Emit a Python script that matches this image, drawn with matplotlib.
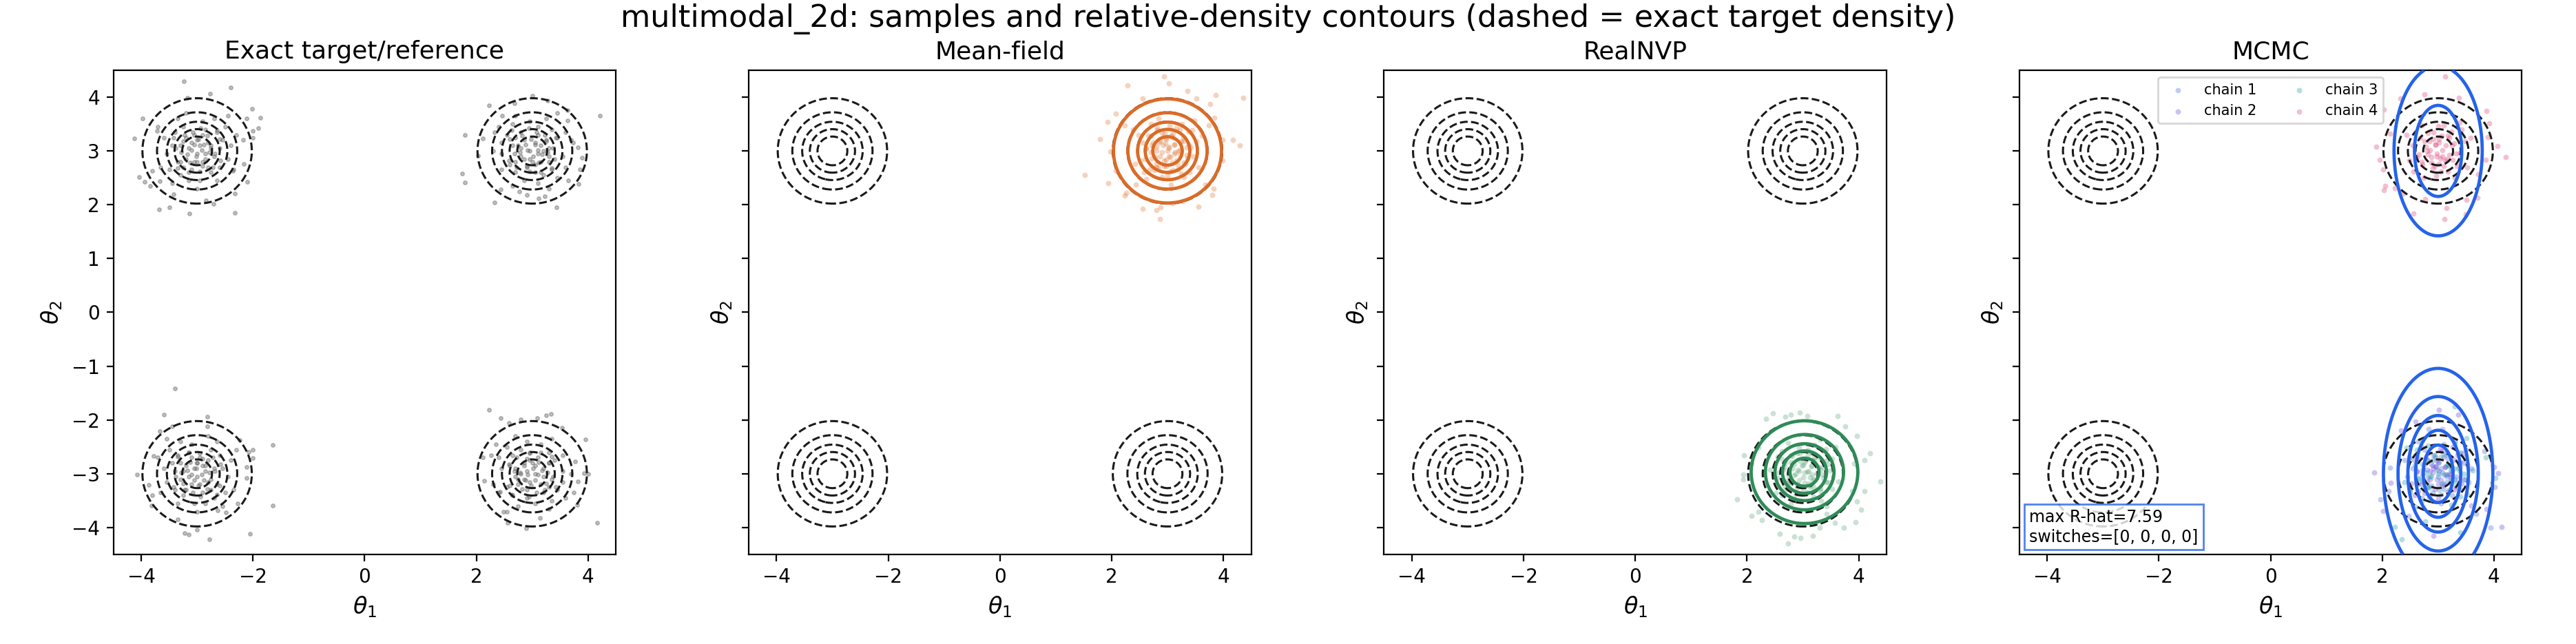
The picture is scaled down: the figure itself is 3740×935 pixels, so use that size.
import numpy as np
import matplotlib
matplotlib.use("Agg")
from matplotlib import pyplot as plt

# exact target samples, one list per mode
ref_tl = [(-3.24, 4.29), (-2.40, 4.18), (-2.77, 4.07), (-3.18, 3.99), (-2.02, 3.78), (-1.87, 3.62), (-3.98, 3.60),
          (-2.12, 3.60), (-4.13, 3.23), (-1.91, 3.42), (-2.00, 3.37), (-2.00, 3.25), (-4.04, 2.52), (-3.94, 2.43),
          (-3.84, 2.35), (-2.10, 2.43), (-3.68, 1.91), (-3.50, 1.95), (-3.14, 1.84), (-2.33, 1.85), (-2.84, 2.08),
          (-2.71, 2.02), (-3.42, 2.20), (-2.32, 2.21), (-3.72, 3.37), (-3.80, 2.63), (-3.67, 2.44), (-2.16, 2.76),
          (-2.18, 3.20), (-2.36, 2.63),
          (-2.95, 3.10), (-3.20, 3.25), (-2.70, 2.90), (-3.35, 2.80), (-2.85, 3.40), (-3.10, 2.65), (-2.55, 3.20),
          (-3.45, 3.10), (-2.75, 2.60), (-3.25, 3.45), (-3.00, 2.95), (-2.90, 2.80), (-3.15, 3.05), (-2.65, 3.35),
          (-3.30, 2.55), (-2.45, 2.85), (-3.55, 2.95), (-2.80, 3.15), (-3.05, 3.30), (-2.60, 2.70), (-3.40, 3.35),
          (-2.90, 3.55), (-3.20, 2.85), (-2.75, 3.05), (-3.10, 3.15), (-2.40, 3.10), (-3.60, 3.25), (-2.95, 2.45),
          (-3.35, 3.60), (-2.70, 3.60), (-2.85, 2.95), (-3.25, 2.70), (-2.50, 3.45), (-3.50, 2.65), (-3.00, 3.20),
          (-2.80, 2.70), (-3.15, 2.45), (-2.60, 3.05), (-3.05, 2.80), (-2.90, 3.30), (-3.30, 3.10), (-2.35, 2.65),
          (-3.65, 2.70), (-2.65, 2.45), (-3.45, 2.40), (-2.45, 3.65), (-3.20, 3.70), (-3.00, 2.30), (-2.30, 3.30),
          (-3.70, 3.45),
          (-2.92, 3.02), (-3.05, 3.12), (-2.85, 2.85), (-3.18, 2.94), (-2.98, 3.22), (-3.12, 2.78), (-2.75, 3.10),
          (-3.25, 3.18), (-2.90, 2.72), (-3.02, 2.90), (-2.82, 3.28), (-3.30, 2.80), (-2.68, 2.95), (-3.08, 3.35),
          (-2.95, 2.62), (-3.38, 3.05), (-2.72, 2.70), (-3.22, 3.30), (-2.60, 3.22), (-3.15, 2.60), (-2.88, 3.12),
          (-3.10, 3.02), (-3.00, 2.80), (-2.78, 2.98), (-3.28, 2.98), (-2.94, 3.42), (-3.35, 2.68), (-2.64, 3.38),
          (-3.42, 3.25), (-2.58, 2.82)]
ref_tr = [(3.01, 4.03), (2.23, 3.84), (4.21, 3.66), (1.79, 3.30), (2.11, 3.23), (3.63, 3.76), (1.74, 2.58),
          (1.79, 2.41), (2.32, 2.04), (3.44, 1.95), (3.83, 2.39), (3.89, 2.87), (3.82, 3.07), (3.85, 2.65),
          (3.28, 3.93), (2.68, 3.88), (2.44, 2.28), (3.11, 2.12), (2.03, 2.91), (3.63, 3.56), (3.73, 3.16),
          (2.46, 3.65), (2.32, 3.35), (3.22, 2.16), (2.91, 2.18), (2.77, 2.25),
          (3.10, 2.95), (3.25, 3.20), (2.90, 2.70), (2.80, 3.35), (3.40, 2.85), (2.65, 3.10), (3.20, 2.55),
          (3.10, 3.45), (2.60, 2.75), (3.45, 3.25), (2.95, 3.00), (2.80, 2.90), (3.05, 3.15), (3.35, 2.65),
          (2.55, 3.30), (2.85, 2.45), (2.95, 3.55), (3.15, 2.80), (3.30, 3.05), (2.70, 2.60), (3.35, 3.40),
          (3.55, 2.90), (2.85, 3.20), (3.05, 2.75), (3.15, 3.10), (3.10, 2.40), (3.25, 3.60), (2.45, 2.95),
          (3.60, 3.35), (3.60, 2.70), (2.95, 2.85), (2.70, 3.25), (3.45, 2.50), (2.65, 3.50), (3.20, 3.00),
          (2.70, 2.80), (2.45, 3.15), (3.05, 2.60), (2.80, 3.05), (3.30, 2.90), (3.10, 3.30), (2.65, 2.35),
          (2.70, 3.65), (2.45, 2.65), (2.40, 3.45), (3.65, 2.45), (3.70, 3.20), (2.30, 3.00), (3.30, 2.30),
          (3.45, 3.70),
          (2.92, 3.02), (3.05, 3.12), (2.85, 2.85), (3.18, 2.94), (2.98, 3.22), (3.12, 2.78), (2.75, 3.10),
          (3.25, 3.18), (2.90, 2.72), (3.02, 2.90), (2.82, 3.28), (3.30, 2.80), (2.68, 2.95), (3.08, 3.35),
          (2.95, 2.62), (3.38, 3.05), (2.72, 2.70), (3.22, 3.30), (2.60, 3.22), (3.15, 2.60), (2.88, 3.12),
          (3.10, 3.02), (3.00, 2.80), (2.78, 2.98), (3.28, 2.98), (2.94, 3.42), (3.35, 2.68), (2.64, 3.38),
          (3.42, 3.25), (2.58, 2.82)]
ref_bl = [(-3.40, -1.41), (-3.60, -1.90), (-2.82, -1.94), (-1.64, -2.47), (-4.07, -3.02), (-1.65, -3.59),
          (-2.00, -2.55), (-2.08, -2.59), (-2.00, -2.71), (-2.12, -2.87), (-2.12, -3.08), (-3.67, -2.21),
          (-3.45, -2.12), (-3.80, -3.40), (-3.82, -3.59), (-3.35, -3.85), (-3.00, -4.04), (-3.23, -4.10),
          (-2.28, -3.55), (-2.24, -2.38), (-3.78, -2.67), (-3.87, -3.21), (-2.82, -2.12), (-2.49, -3.72),
          (-2.63, -3.68), (-3.15, -4.13), (-2.78, -4.22), (-2.05, -4.12),
          (-3.05, -2.90), (-2.80, -2.75), (-3.30, -3.10), (-2.65, -3.20), (-3.15, -2.60), (-2.90, -3.35),
          (-3.45, -2.80), (-2.55, -2.90), (-3.25, -3.40), (-2.75, -2.55), (-3.00, -3.05), (-3.10, -3.20),
          (-2.85, -2.95), (-3.35, -2.65), (-2.70, -3.45), (-3.55, -3.15), (-2.45, -3.05), (-3.20, -2.85),
          (-2.95, -2.70), (-3.40, -3.30), (-2.60, -2.65), (-3.10, -2.45), (-2.80, -3.15), (-3.25, -2.95),
          (-2.90, -2.85), (-3.60, -2.90), (-2.40, -2.75), (-3.05, -3.55), (-2.65, -2.40), (-3.30, -2.40),
          (-3.15, -3.05), (-2.75, -3.30), (-3.50, -2.55), (-2.50, -3.35), (-3.00, -2.80), (-3.20, -3.30),
          (-2.85, -3.55), (-3.40, -2.95), (-2.95, -3.20), (-3.10, -2.70), (-2.70, -2.90), (-3.65, -3.35),
          (-2.35, -3.30), (-3.35, -3.55), (-2.55, -3.60), (-3.55, -2.35), (-2.80, -2.30), (-3.00, -3.70),
          (-3.70, -2.70), (-2.30, -2.55),
          (-2.92, -3.02), (-3.05, -3.12), (-2.85, -2.85), (-3.18, -2.94), (-2.98, -3.22), (-3.12, -2.78),
          (-2.75, -3.10), (-3.25, -3.18), (-2.90, -2.72), (-3.02, -2.90), (-2.82, -3.28), (-3.30, -2.80),
          (-2.68, -2.95), (-3.08, -3.35), (-2.95, -2.62), (-3.38, -3.05), (-2.72, -2.70), (-3.22, -3.30),
          (-2.60, -3.22), (-3.15, -2.60), (-2.88, -3.12), (-3.10, -3.02), (-3.00, -2.80), (-2.78, -2.98),
          (-3.28, -2.98), (-2.94, -3.42), (-3.35, -2.68), (-2.64, -3.38), (-3.42, -3.25), (-2.58, -2.82)]
ref_br = [(2.23, -1.81), (2.44, -1.97), (2.58, -2.05), (2.79, -1.99), (3.09, -1.97), (3.25, -1.92),
          (3.34, -1.89), (3.54, -2.15), (3.95, -2.36), (4.00, -3.00), (3.93, -2.99), (2.14, -3.13),
          (2.11, -2.69), (4.16, -3.91), (2.89, -4.01), (2.56, -3.91), (2.48, -3.70), (3.81, -3.58),
          (3.74, -3.35), (3.82, -3.14), (3.77, -2.77), (3.14, -3.82), (2.27, -2.65), (2.42, -3.33),
          (2.90, -2.95), (2.75, -3.20), (3.10, -2.70), (3.20, -3.35), (2.60, -2.85), (3.35, -3.10),
          (2.80, -2.55), (2.90, -3.45), (3.40, -2.75), (2.55, -3.25), (3.05, -3.00), (3.20, -2.90),
          (2.95, -3.15), (2.65, -2.65), (3.45, -3.30), (3.15, -2.45), (3.05, -3.55), (2.85, -2.80),
          (2.70, -3.05), (3.30, -2.60), (2.65, -3.40), (2.45, -2.90), (3.15, -3.20), (2.95, -2.75),
          (2.85, -3.10), (2.90, -2.40), (2.75, -3.60), (3.55, -2.95), (2.40, -3.35), (2.40, -2.70),
          (3.05, -2.85), (3.30, -3.25), (2.55, -2.50), (3.35, -3.50), (2.80, -3.00), (3.30, -2.80),
          (3.55, -3.15), (2.95, -2.60), (3.20, -3.05), (2.70, -2.90), (2.90, -3.30), (3.35, -2.35),
          (3.30, -3.65), (3.55, -2.65), (3.60, -3.45), (2.35, -2.45), (2.30, -3.20), (3.70, -3.00),
          (2.70, -2.30), (2.55, -3.70),
          (2.92, -3.02), (3.05, -3.12), (2.85, -2.85), (3.18, -2.94), (2.98, -3.22), (3.12, -2.78),
          (2.75, -3.10), (3.25, -3.18), (2.90, -2.72), (3.02, -2.90), (2.82, -3.28), (3.30, -2.80),
          (2.68, -2.95), (3.08, -3.35), (2.95, -2.62), (3.38, -3.05), (2.72, -2.70), (3.22, -3.30),
          (2.60, -3.22), (3.15, -2.60), (2.88, -3.12), (3.10, -3.02), (3.00, -2.80), (2.78, -2.98),
          (3.28, -2.98), (2.94, -3.42), (3.35, -2.68), (2.64, -3.38), (3.42, -3.25), (2.58, -2.82)]

# mean-field samples
mf_pts = [(2.94, 4.39), (3.03, 4.25), (2.28, 4.22), (3.36, 4.11), (3.86, 4.04), (4.35, 3.99), (2.56, 3.98),
          (3.52, 3.98), (3.76, 3.87), (2.07, 3.69), (3.84, 3.61), (1.93, 3.54), (1.79, 3.22), (4.17, 3.20),
          (4.29, 3.11), (1.98, 2.99), (1.52, 2.55), (1.94, 2.40), (2.24, 2.17), (2.55, 1.93), (2.86, 1.74),
          (2.80, 1.90), (3.56, 1.96), (3.80, 2.18), (3.82, 2.30), (3.98, 2.82), (3.98, 3.20), (2.08, 2.63),
          (2.26, 2.22), (3.27, 2.07), (2.88, 1.95), (3.08, 2.03), (3.68, 2.37), (2.24, 3.48), (3.74, 3.48),
          (2.43, 2.37),
          (3.02, 3.05), (2.88, 3.18), (3.22, 2.92), (2.72, 2.86), (3.10, 3.32), (2.94, 2.72), (3.38, 3.12),
          (2.62, 3.04), (3.18, 2.66), (2.82, 3.38), (3.05, 2.88), (3.14, 2.98), (2.80, 3.08), (3.28, 3.26),
          (2.76, 2.64), (3.46, 2.90), (2.52, 2.82), (3.12, 3.12), (2.98, 3.24), (3.32, 2.76), (2.66, 3.28),
          (3.04, 3.46), (2.86, 2.90), (3.20, 3.00), (2.92, 3.10), (3.52, 3.18), (2.48, 3.30), (3.00, 2.54),
          (2.70, 3.50), (3.26, 3.50), (3.08, 2.78), (2.80, 2.76), (3.44, 3.38), (2.58, 2.60), (2.96, 3.14),
          (3.16, 2.82), (2.90, 2.52), (3.34, 3.06), (2.98, 2.84), (3.06, 3.28), (2.74, 3.16), (3.56, 2.70),
          (2.42, 2.76), (3.30, 2.52), (2.62, 2.48), (3.48, 3.56), (2.84, 3.60), (3.06, 2.38), (3.62, 3.28),
          (2.38, 3.40), (3.24, 3.18), (2.70, 2.98), (3.10, 2.64), (2.90, 3.34), (3.40, 2.60), (2.56, 3.16),
          (3.16, 3.42), (3.36, 2.86), (2.84, 2.68), (3.00, 3.00),
          (3.02, 3.08), (3.12, 2.95), (2.85, 3.15), (2.94, 2.82), (3.22, 3.02), (2.78, 2.88), (3.10, 3.25),
          (3.18, 2.75), (2.72, 3.10), (2.90, 2.98), (3.28, 3.18), (2.80, 2.70), (2.95, 3.32), (3.35, 2.92),
          (2.62, 3.05), (3.05, 2.62), (2.70, 3.28), (3.30, 2.78), (3.22, 3.40), (2.60, 2.85), (3.12, 3.12),
          (3.02, 2.90), (2.80, 3.00), (2.98, 3.22), (2.98, 2.72), (3.42, 3.06), (2.68, 2.65), (3.38, 3.36),
          (3.25, 2.58), (2.82, 3.42)]

# RealNVP samples
nvp_pts = [(2.46, -1.87), (2.34, -1.98), (2.94, -1.86), (3.08, -1.93), (2.79, -1.90), (2.69, -1.94),
           (3.62, -1.93), (3.76, -2.12), (3.97, -2.30), (4.20, -2.62), (4.10, -2.75), (4.39, -3.14),
           (1.95, -2.65), (1.93, -3.01), (1.93, -3.11), (1.82, -3.48), (2.08, -3.78), (2.27, -3.86),
           (2.59, -4.12), (2.85, -4.17), (2.96, -4.19), (3.18, -4.16), (2.73, -4.30), (3.74, -4.00),
           (3.95, -3.90), (4.04, -3.67), (4.11, -3.32), (3.97, -3.51), (2.21, -3.70), (3.43, -3.74),
           (3.57, -3.91), (3.30, -4.00), (2.08, -2.81), (2.20, -2.51), (3.92, -2.81), (3.88, -3.32),
           (3.08, -2.96), (3.21, -3.10), (2.95, -2.76), (2.89, -3.26), (3.35, -2.88), (2.75, -3.04),
           (3.15, -2.60), (3.07, -3.36), (2.69, -2.80), (3.41, -3.16), (2.91, -2.93), (3.01, -2.84),
           (3.11, -3.18), (3.29, -2.70), (2.67, -3.22), (2.93, -2.52), (2.85, -3.46), (3.15, -2.86),
           (3.27, -3.00), (2.79, -2.66), (3.31, -3.32), (3.49, -2.94), (2.93, -3.12), (3.03, -2.78),
           (3.13, -3.06), (3.21, -2.46), (3.33, -3.50), (2.57, -2.98), (3.53, -3.28), (3.53, -2.72),
           (2.81, -2.90), (2.79, -3.18), (3.41, -2.54), (2.63, -3.40), (3.17, -3.02), (2.85, -2.82),
           (2.55, -3.08), (3.09, -2.64), (2.87, -3.00), (3.31, -2.92), (3.19, -3.24), (2.73, -2.42),
           (2.79, -3.56), (2.55, -2.68), (2.51, -3.36), (3.59, -2.50), (3.63, -3.14), (2.41, -2.92),
           (3.31, -2.36), (3.43, -3.60), (3.21, -2.74), (3.01, -3.28), (2.67, -2.88), (3.37, -3.08),
           (2.63, -2.58), (3.19, -3.42), (3.45, -2.82), (2.89, -2.62), (2.71, -3.14), (3.03, -2.98),
           (3.11, -2.95), (2.98, -2.85), (3.18, -3.12), (2.85, -3.03), (3.05, -2.75), (2.91, -3.19),
           (3.28, -2.87), (2.78, -2.79), (3.13, -3.25), (3.01, -3.07), (3.21, -2.69), (2.73, -3.17),
           (3.35, -3.02), (2.95, -2.62), (3.08, -3.35), (2.65, -2.92), (3.31, -3.27), (2.81, -2.67),
           (3.43, -2.75), (2.88, -3.37), (3.15, -2.85), (2.93, -2.95), (3.03, -3.17), (3.25, -2.99),
           (2.75, -2.99), (3.09, -2.55), (2.68, -3.29), (3.39, -2.59), (2.61, -2.72), (3.45, -3.15)]

# MCMC chains
chain1 = [(4.01, -3.25), (3.94, -4.00), (1.97, -3.47), (2.11, -3.32), (2.14, -2.89), (3.83, -2.58),
          (3.68, -3.74), (2.47, -3.78), (3.08, -2.17), (2.83, -2.17),
          (3.05, -2.90), (2.80, -2.75), (3.30, -3.10), (2.65, -3.20), (3.15, -2.60), (2.90, -3.35),
          (3.45, -2.80), (2.55, -2.90), (3.25, -3.40), (2.75, -2.55), (3.00, -3.05), (3.10, -3.20),
          (2.85, -2.95), (3.35, -2.65), (2.70, -3.45), (3.55, -3.15), (2.45, -3.05), (3.20, -2.85),
          (2.95, -2.70), (3.40, -3.30), (2.60, -2.65), (3.10, -2.45), (2.80, -3.15), (3.25, -2.95),
          (2.90, -2.85), (3.60, -2.90), (2.40, -2.75), (3.05, -3.55), (2.65, -2.40), (3.30, -2.40),
          (3.15, -3.05), (2.75, -3.30), (3.50, -2.55), (2.50, -3.35), (3.00, -2.80),
          (3.08, -2.98), (2.95, -2.88), (3.15, -3.15), (2.82, -3.06), (3.02, -2.78), (2.88, -3.22),
          (3.25, -2.90), (2.75, -2.82), (3.10, -3.28), (2.98, -3.10), (3.18, -2.72), (2.70, -3.20),
          (3.32, -3.05), (2.92, -2.65), (3.05, -3.38)]
chain2 = [(1.86, -2.98), (4.08, -2.99), (4.00, -2.88), (4.14, -3.99), (2.91, -4.15), (2.01, -3.69),
          (2.15, -3.17), (3.02, -1.81), (3.36, -1.90), (2.60, -2.03), (2.34, -2.19), (3.59, -3.59),
          (3.87, -3.66),
          (3.02, -2.95), (2.88, -2.82), (3.22, -3.08), (2.72, -3.14), (3.10, -2.68), (2.94, -3.28),
          (3.38, -2.88), (2.62, -2.96), (3.18, -3.34), (2.82, -2.62), (3.05, -3.12), (3.14, -3.02),
          (2.80, -2.92), (3.28, -2.74), (2.76, -3.36), (3.46, -3.10), (2.52, -3.18), (3.12, -2.88),
          (2.98, -2.76), (3.32, -3.24), (2.66, -2.72), (3.04, -2.54), (2.86, -3.10), (3.20, -3.00),
          (2.92, -2.90), (3.52, -2.82), (2.48, -2.70), (3.00, -3.46), (2.70, -2.50), (3.26, -2.50),
          (3.08, -3.22), (2.80, -3.24), (3.44, -2.62), (2.58, -3.40), (2.96, -2.86),
          (2.62, -2.95), (3.28, -3.30), (2.78, -2.70), (3.40, -2.78), (2.85, -3.40), (3.12, -2.88),
          (2.90, -2.98), (3.00, -3.20), (3.22, -3.02), (2.72, -3.02), (3.06, -2.58), (2.65, -3.32),
          (3.36, -2.62), (2.58, -2.75), (3.42, -3.18)]
chain3 = [(4.02, -3.08), (3.40, -4.09), (2.35, -4.22), (2.22, -3.99), (3.30, -1.75), (3.51, -2.33),
          (3.85, -2.69), (2.77, -3.89),
          (2.82, -2.48), (2.70, -3.52), (3.46, -3.00), (2.50, -3.30), (2.50, -2.74), (3.22, -2.92),
          (3.24, -3.20), (2.62, -2.56), (3.40, -3.42), (2.86, -3.04), (3.18, -2.84), (3.48, -3.10),
          (2.94, -2.66), (3.16, -3.02), (2.72, -2.94), (2.84, -3.26), (3.30, -2.44), (3.24, -3.58),
          (3.48, -2.70), (3.52, -3.38), (2.44, -2.52), (2.40, -3.16), (3.62, -2.94), (2.72, -2.38),
          (2.60, -3.62), (2.82, -2.76), (3.02, -3.30), (3.36, -2.90), (2.66, -3.10), (3.40, -2.60),
          (2.84, -3.44), (2.58, -2.84), (3.14, -2.64), (3.32, -3.16), (3.00, -3.00),
          (2.98, -2.92), (2.88, -3.05), (3.15, -2.85), (3.06, -3.18), (2.78, -2.98), (3.22, -3.12),
          (2.90, -2.75), (2.82, -3.25), (3.28, -2.90), (3.10, -3.02), (2.72, -2.82), (3.20, -3.30),
          (3.05, -2.68), (2.65, -3.08), (3.38, -2.95)]
chain4 = [(3.13, 4.39), (2.76, 4.05), (2.32, 3.97), (3.37, 3.99), (3.86, 3.74), (3.92, 3.51), (1.89, 3.08),
          (4.06, 3.09), (4.21, 2.88), (1.95, 2.83), (2.01, 2.65), (2.05, 2.35), (2.03, 2.27), (2.22, 2.31),
          (3.15, 1.94), (3.11, 1.74), (3.49, 1.83), (2.56, 1.84), (3.70, 2.13), (3.85, 2.83), (3.89, 3.26),
          (2.03, 3.77), (2.14, 3.32), (3.51, 2.09), (2.77, 2.11), (2.37, 2.21), (3.72, 2.57),
          (2.98, 2.95), (3.12, 2.82), (2.78, 3.08), (3.28, 3.14), (2.90, 2.68), (3.06, 3.28), (2.62, 2.88),
          (3.38, 2.96), (2.82, 3.34), (3.18, 2.62), (2.95, 3.12), (2.86, 3.02), (3.20, 2.92), (2.72, 2.74),
          (3.24, 3.36), (2.54, 3.10), (3.48, 3.18), (2.88, 2.88), (3.02, 2.76), (2.68, 3.24), (3.34, 2.72),
          (2.96, 2.54), (3.14, 3.10), (2.80, 3.00), (3.08, 2.90), (2.48, 2.82), (3.52, 2.70), (3.00, 3.46),
          (3.30, 2.50), (2.74, 2.50), (2.92, 3.22), (3.20, 3.24), (2.56, 2.62), (3.42, 3.40), (3.04, 2.86),
          (2.84, 3.18), (3.10, 3.48), (2.66, 2.94), (3.02, 3.16), (2.94, 2.72), (3.26, 2.84), (2.44, 3.30),
          (3.58, 3.24), (2.70, 3.48), (3.38, 3.52),
          (3.08, 3.02), (2.95, 3.12), (3.15, 2.85), (2.82, 2.94), (3.02, 3.22), (2.88, 2.78), (3.25, 3.10),
          (2.75, 3.18), (3.10, 2.72), (2.98, 2.90), (3.18, 3.28), (2.70, 2.80), (3.32, 2.95), (2.92, 3.35),
          (3.05, 2.62)]
chains = [chain1, chain2, chain3, chain4]
chain_labels = ["chain 1", "chain 2", "chain 3", "chain 4"]

# density models (gaussian modes) used for the contours
target_centers = [(-3, 3), (3, 3), (-3, -3), (3, -3)]
target_sigma = 0.4
mf_center = (3.0, 3.0)
mf_sigma = 0.395
nvp_center = (3.03, -2.97)
nvp_sigma = 0.39
kde_centers = [(3.0, 3.0), (3.0, -3.0)]
kde_weights = [0.35, 1.0]
kde_sx, kde_sy = 0.40, 0.80
rel_levels = [0.05, 0.2, 0.4, 0.6, 0.8]
xticks = [-4, -2, 0, 2, 4]
yticks = [-4, -3, -2, -1, 0, 1, 2, 3, 4]

rhat = 7.59
switches = [0, 0, 0, 0]

gray = "dimgray"
orange = "#dc6b26"
green = "#2e8b57"
blue = "#2563eb"
chain_colors = ["#4870de", "#7a48de", "#269bac", "#de487a"]

grid = np.linspace(-4.5, 4.5, 361)
X, Y = np.meshgrid(grid, grid)


def rel_density(centers, weights, sx, sy):
    z = np.zeros_like(X)
    for (cx, cy), w in zip(centers, weights):
        z += w * np.exp(-(X - cx) ** 2 / (2 * sx ** 2) - (Y - cy) ** 2 / (2 * sy ** 2))
    return z / z.max()


z_target = rel_density(target_centers, [1, 1, 1, 1], target_sigma, target_sigma)
z_mf = rel_density([mf_center], [1], mf_sigma, mf_sigma)
z_nvp = rel_density([nvp_center], [1], nvp_sigma, nvp_sigma)
z_kde = rel_density(kde_centers, kde_weights, kde_sx, kde_sy)

fig, axes = plt.subplots(1, 4, figsize=(18.7, 4.675), sharey=True)
fig.subplots_adjust(left=0.044, right=0.979, bottom=0.139, top=0.891, wspace=0.264)

# panel 1 - exact target
ax = axes[0]
pts = np.array(ref_tl + ref_tr + ref_bl + ref_br)
ax.scatter(pts[:, 0], pts[:, 1], s=3.5, color=gray, alpha=0.4, linewidths=0.7)
ax.set_title("Exact target/reference", fontsize=13)

# panel 2 - mean field
ax = axes[1]
pts = np.array(mf_pts)
ax.scatter(pts[:, 0], pts[:, 1], s=8, color=orange, alpha=0.3, linewidths=0)
ax.contour(X, Y, z_mf, levels=rel_levels, colors=orange, linewidths=1.7, zorder=4)
ax.set_title("Mean-field", fontsize=13)

# panel 3 - realnvp
ax = axes[2]
pts = np.array(nvp_pts)
ax.scatter(pts[:, 0], pts[:, 1], s=8, color=green, alpha=0.25, linewidths=0)
ax.contour(X, Y, z_nvp, levels=rel_levels, colors=green, linewidths=1.7, zorder=4)
ax.set_title("RealNVP", fontsize=13)

# panel 4 - mcmc chains
ax = axes[3]
for ch, lab, col in zip(chains, chain_labels, chain_colors):
    pts = np.array(ch)
    ax.scatter(pts[:, 0], pts[:, 1], s=8, color=col, alpha=0.35, linewidths=0, label=lab)
ax.contour(X, Y, z_kde, levels=rel_levels, colors=blue, linewidths=1.7, zorder=4)
ax.legend(loc="upper center", ncol=2, fontsize=7.5)
ax.text(0.02, 0.02, f"max R-hat={rhat:.2f}\nswitches={switches}", transform=ax.transAxes,
        fontsize=8.5, va="bottom", ha="left", zorder=6,
        bbox=dict(boxstyle="square,pad=0.3", facecolor="white", edgecolor=blue, alpha=0.8))
ax.set_title("MCMC", fontsize=13)

for ax in axes:
    ax.contour(X, Y, z_target, levels=rel_levels, colors="0.1", linestyles="dashed", linewidths=1.1, zorder=3)
    ax.set_xlim(-4.5, 4.5)
    ax.set_ylim(-4.5, 4.5)
    ax.set_xticks(xticks)
    ax.set_yticks(yticks)
    ax.set_xlabel(r"$\theta_1$", fontsize=12)
    ax.set_ylabel(r"$\theta_2$", fontsize=12)
    ax.tick_params(labelsize=10)

fig.suptitle("multimodal_2d: samples and relative-density contours (dashed = exact target density)",
             fontsize=16, y=0.995)
fig.savefig("out.png", dpi=200)
